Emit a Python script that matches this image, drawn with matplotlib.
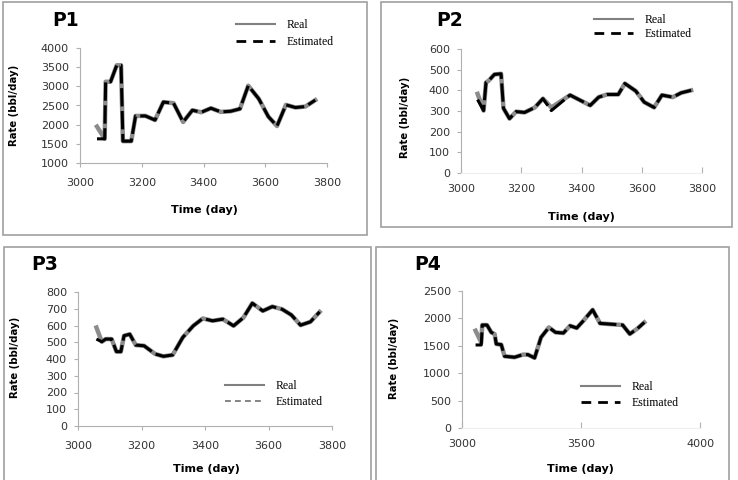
import matplotlib
matplotlib.use("Agg")
import matplotlib.pyplot as plt
from matplotlib.lines import Line2D
from matplotlib.patches import Rectangle

# datos (dias, caudal bbl/day)
p1_days = [3055, 3080, 3083, 3099, 3119, 3133, 3139, 3166, 3180, 3212, 3243, 3270, 3303,
           3334, 3364, 3393, 3424, 3456, 3488, 3518, 3545, 3579, 3610, 3638, 3667, 3698, 3730, 3762]
p1_real = [1950, 1630, 3120, 3120, 3550, 3550, 1570, 1570, 2228, 2228, 2120, 2590, 2560,
           2070, 2377, 2324, 2430, 2333, 2350, 2412, 3017, 2675, 2210, 1965, 2517, 2447, 2473, 2640]
p1_est = [1630, 1630, 3120, 3120, 3550, 3550, 1570, 1570, 2228, 2228, 2120, 2590, 2560,
          2070, 2377, 2324, 2430, 2333, 2350, 2412, 3017, 2675, 2210, 1965, 2517, 2447, 2473, 2640]

p2_days = [3055, 3075, 3083, 3092, 3111, 3133, 3141, 3161, 3183, 3211, 3245, 3272, 3300,
           3362, 3429, 3457, 3485, 3522, 3544, 3580, 3608, 3641, 3667, 3703, 3731, 3764]
p2_real = [383, 302, 438, 447, 477, 480, 313, 263, 297, 293, 317, 360, 317,
           377, 327, 367, 380, 380, 433, 397, 343, 317, 377, 367, 388, 400]
p2_est = [355, 302, 438, 447, 477, 480, 313, 263, 297, 293, 317, 360, 302,
          377, 327, 367, 380, 380, 433, 397, 343, 317, 377, 367, 388, 400]

p3_days = [3058, 3075, 3087, 3106, 3121, 3135, 3145, 3163, 3182, 3208, 3243, 3269, 3298, 3330,
           3363, 3393, 3424, 3456, 3490, 3521, 3549, 3582, 3612, 3643, 3672, 3701, 3732, 3761]
p3_real = [588, 503, 519, 519, 444, 444, 539, 548, 483, 479, 430, 416, 424, 529,
           598, 642, 628, 638, 598, 647, 733, 687, 713, 697, 663, 602, 622, 681]
p3_est = [519, 503, 519, 519, 444, 444, 539, 548, 483, 479, 430, 416, 424, 529,
          598, 642, 628, 638, 598, 647, 733, 687, 713, 697, 663, 602, 622, 681]

p4_days = [3057, 3081, 3085, 3105, 3123, 3137, 3144, 3165, 3179, 3221, 3256, 3277, 3305,
           3332, 3365, 3393, 3426, 3454, 3482, 3510, 3549, 3580, 3675, 3705, 3738, 3766]
p4_real = [1776, 1560, 1879, 1879, 1745, 1715, 1533, 1521, 1309, 1291, 1339, 1339, 1279,
           1654, 1836, 1745, 1733, 1866, 1824, 1957, 2157, 1909, 1879, 1715, 1818, 1927]
p4_est = [1515, 1515, 1879, 1879, 1745, 1715, 1533, 1521, 1309, 1291, 1339, 1339, 1279,
          1654, 1836, 1745, 1733, 1866, 1824, 1957, 2157, 1909, 1879, 1715, 1818, 1927]

titles = ["P1", "P2", "P3", "P4"]
W, H = 738, 480

fig = plt.figure(figsize=(7.38, 4.8), dpi=100)

# marcos grises de cada panel (x0, y0, x1, y1) en pixeles
frames = [(3, 2, 367, 235), (381, 2, 732, 227), (4, 247, 371, 482), (376, 247, 729, 482)]
for x0, y0, x1, y1 in frames:
    fig.patches.append(Rectangle((x0 / W, 1 - y1 / H), (x1 - x0) / W, (y1 - y0) / H,
                                 transform=fig.transFigure, fill=False,
                                 edgecolor="#a0a0a0", linewidth=1.2))

# ejes: left, top, right, bottom en pixeles
boxes = [(80, 48, 327, 163), (461, 49, 702, 173), (78, 292, 332, 426), (462, 291, 700, 428)]
panels = [(p1_days, p1_real, p1_est), (p2_days, p2_real, p2_est),
          (p3_days, p3_real, p3_est), (p4_days, p4_real, p4_est)]
yticks = [range(1000, 4001, 500), range(0, 601, 100), range(0, 801, 100), range(0, 2501, 500)]
xticks = [range(3000, 3801, 200), range(3000, 3801, 200), range(3000, 3801, 200), range(3000, 4001, 500)]
# centros de las etiquetas en pixeles
ylabel_pos = [(14, 105), (405, 117), (15, 357), (394, 358)]
xlabel_pos = [(204, 210), (581, 217), (206, 469), (580, 469)]
title_pos = [(52, 20), (436, 20), (31, 265), (414, 265)]
legend_pos = [(236, 33.5), (594, 27), (225, 394), (581, 395)]
legend_space = [0.45, 0.2, 0.4, 0.4]

for i in range(4):
    l, t, r, b = boxes[i]
    ax = fig.add_axes([l / W, 1 - b / H, (r - l) / W, (b - t) / H])
    days, real, est = panels[i]
    ax.plot(days, real, color="#8c8c8c", lw=3.2, solid_joinstyle="round")
    ax.plot(days, est, color="black", lw=2.2, linestyle=(0, (6, 1.5)))
    ax.set_xlim(xticks[i][0], xticks[i][-1])
    ax.set_ylim(yticks[i][0], yticks[i][-1])
    ax.set_xticks(list(xticks[i]))
    ax.set_yticks(list(yticks[i]))
    for s in ["top", "right"]:
        ax.spines[s].set_visible(False)
    ax.spines["left"].set_color("#b0b0b0")
    ax.spines["bottom"].set_color("#b0b0b0" if i in (0, 2) else "#eeeeee")
    ax.tick_params(axis="y", length=3, color="#b0b0b0", labelsize=8, labelcolor="#333333", pad=5)
    ax.tick_params(axis="x", length=3, color="#b0b0b0", labelsize=8, labelcolor="#333333", pad=8)
    if i in (1, 3):
        ax.tick_params(axis="x", direction="in", length=4)

    yx, yy = ylabel_pos[i]
    fig.text(yx / W, 1 - yy / H, "Rate (bbl/day)", rotation=90, fontsize=7.3,
             fontweight="bold", ha="center", va="center")
    xx, xy = xlabel_pos[i]
    fig.text(xx / W, 1 - xy / H, "Time (day)", fontsize=8, fontweight="bold",
             ha="center", va="center")

    tx, ty = title_pos[i]
    fig.text(tx / W, 1 - ty / H, titles[i], fontsize=13.5, fontweight="bold", va="center", ha="left")

    est_color = "#707070" if i == 2 else "black"
    est_lw = 1.2 if i == 2 else 2.0
    handles = [Line2D([], [], color="#808080", lw=1.5),
               Line2D([], [], color=est_color, lw=est_lw, linestyle=(0, (3.5, 2.5)))]
    lx, ly = legend_pos[i]
    ax.legend(handles, ["Real", "Estimated"], loc="center left",
              bbox_to_anchor=(lx / W, 1 - ly / H), bbox_transform=fig.transFigure,
              frameon=False, borderpad=0, borderaxespad=0, handlelength=3.3,
              handletextpad=1.0, labelspacing=legend_space[i],
              prop={"family": "Liberation Serif", "size": 8.5})

plt.savefig("out.png", dpi=100)
